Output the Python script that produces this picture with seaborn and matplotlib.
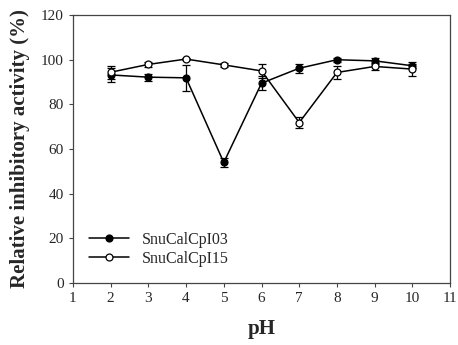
import numpy as np
import pandas as pd
import seaborn as sns
import matplotlib
matplotlib.use("Agg")
import matplotlib.pyplot as plt

ph = [2, 3, 4, 5, 6, 7, 8, 9, 10]
i03_mean = [93.1, 92.1, 91.8, 53.9, 89.4, 96.1, 99.9, 99.4, 97.2]
i03_err = [3.0, 1.5, 5.7, 2.0, 3.0, 2.0, 1.0, 1.5, 1.0]
i15_mean = [94.3, 97.8, 100.2, 97.6, 94.9, 71.8, 94.2, 96.9, 95.7]
i15_err = [3.0, 1.0, 0.5, 0.8, 3.0, 2.5, 3.0, 1.5, 3.0]

df = pd.concat([
    pd.DataFrame({"pH": ph, "activity": i03_mean, "err": i03_err, "sample": "SnuCalCpI03"}),
    pd.DataFrame({"pH": ph, "activity": i15_mean, "err": i15_err, "sample": "SnuCalCpI15"}),
])

sns.set_style("ticks")
plt.rcParams["font.family"] = ["Liberation Serif", "DejaVu Serif"]

fig = plt.figure(figsize=(4.58, 3.45), dpi=100)
ax = fig.add_axes([0.159, 0.180, 0.824, 0.777])

styles = {"SnuCalCpI03": "black", "SnuCalCpI15": "white"}
for name, face in styles.items():
    sub = df[df["sample"] == name]
    ax.errorbar(sub["pH"], sub["activity"], yerr=sub["err"], fmt="none",
                ecolor="black", elinewidth=0.9, capsize=3, capthick=0.9, zorder=2)
    sns.lineplot(data=sub, x="pH", y="activity", ax=ax, color="black", lw=1.1,
                 marker="o", markersize=5, markerfacecolor=face,
                 markeredgecolor="black", markeredgewidth=0.9, label=name, zorder=3)

ax.set_xlim(1, 11)
ax.set_ylim(0, 120)
ax.set_xticks(range(1, 12))
ax.set_yticks(range(0, 121, 20))
ax.tick_params(labelsize=11, length=3, width=0.8, color="#444444")
for s in ax.spines.values():
    s.set_color("#444444")
    s.set_linewidth(0.9)
ax.set_xlabel("pH", fontsize=15, fontweight="bold", labelpad=10)
ax.set_ylabel("Relative inhibitory activity (%)", fontsize=15, fontweight="bold", labelpad=8)

ax.legend(loc="lower left", frameon=False, fontsize=11.5, handlelength=2.5,
          borderaxespad=0.6, labelspacing=0.2)

fig.savefig("out.png", dpi=100)
